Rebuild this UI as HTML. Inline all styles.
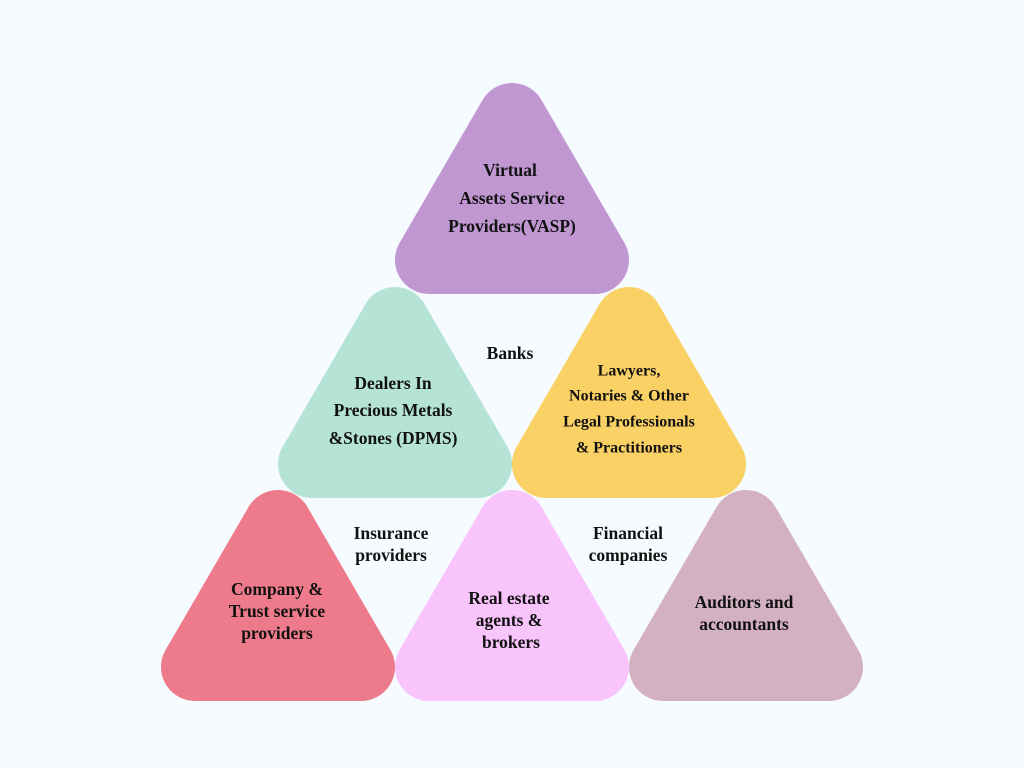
<!DOCTYPE html>
<html><head><meta charset="utf-8"><style>
html,body{margin:0;padding:0;background:#f5fbfe;}
svg{display:block}
text{font-family:"Liberation Serif",serif;font-weight:bold;fill:#111;text-anchor:middle;dominant-baseline:middle}
</style></head><body>
<svg width="1024" height="768" viewBox="0 0 1024 768">
<rect width="1024" height="768" fill="#f5fbfe"/>
<g stroke-linejoin="round" stroke-width="68">
<polygon points="512,117 429,260 595,260" fill="#c197d2" stroke="#c197d2"/>
<polygon points="395,321 312,464 478,464" fill="#b5e3d5" stroke="#b5e3d5"/>
<polygon points="629,321 546,464 712,464" fill="#fad165" stroke="#fad165"/>
<polygon points="278,524 195,667 361,667" fill="#ee7b8b" stroke="#ee7b8b"/>
<polygon points="512,524 429,667 595,667" fill="#f9c4fc" stroke="#f9c4fc"/>
<polygon points="746,524 663,667 829,667" fill="#d3b1c2" stroke="#d3b1c2"/>
</g>
<g font-size="17.5">
<text x="510" y="172">Virtual</text>
<text x="512" y="200">Assets Service</text>
<text x="512" y="228">Providers(VASP)</text>
<text x="393" y="385">Dealers In</text>
<text x="393" y="412">Precious Metals</text>
<text x="393" y="440">&amp;Stones (DPMS)</text>
<text x="510" y="355">Banks</text>
<text x="391" y="535">Insurance</text>
<text x="391" y="557">providers</text>
<text x="628" y="535">Financial</text>
<text x="628" y="557">companies</text>
<text x="277" y="591">Company &amp;</text>
<text x="277" y="613">Trust service</text>
<text x="277" y="635">providers</text>
<text x="509" y="600">Real estate</text>
<text x="509" y="622">agents &amp;</text>
<text x="511" y="644">brokers</text>
<text x="744" y="604">Auditors and</text>
<text x="744" y="626">accountants</text>
</g>
<g font-size="16">
<text x="629" y="372">Lawyers,</text>
<text x="629" y="397">Notaries &amp; Other</text>
<text x="629" y="423">Legal Professionals</text>
<text x="629" y="449">&amp; Practitioners</text>
</g>
</svg>
</body></html>
